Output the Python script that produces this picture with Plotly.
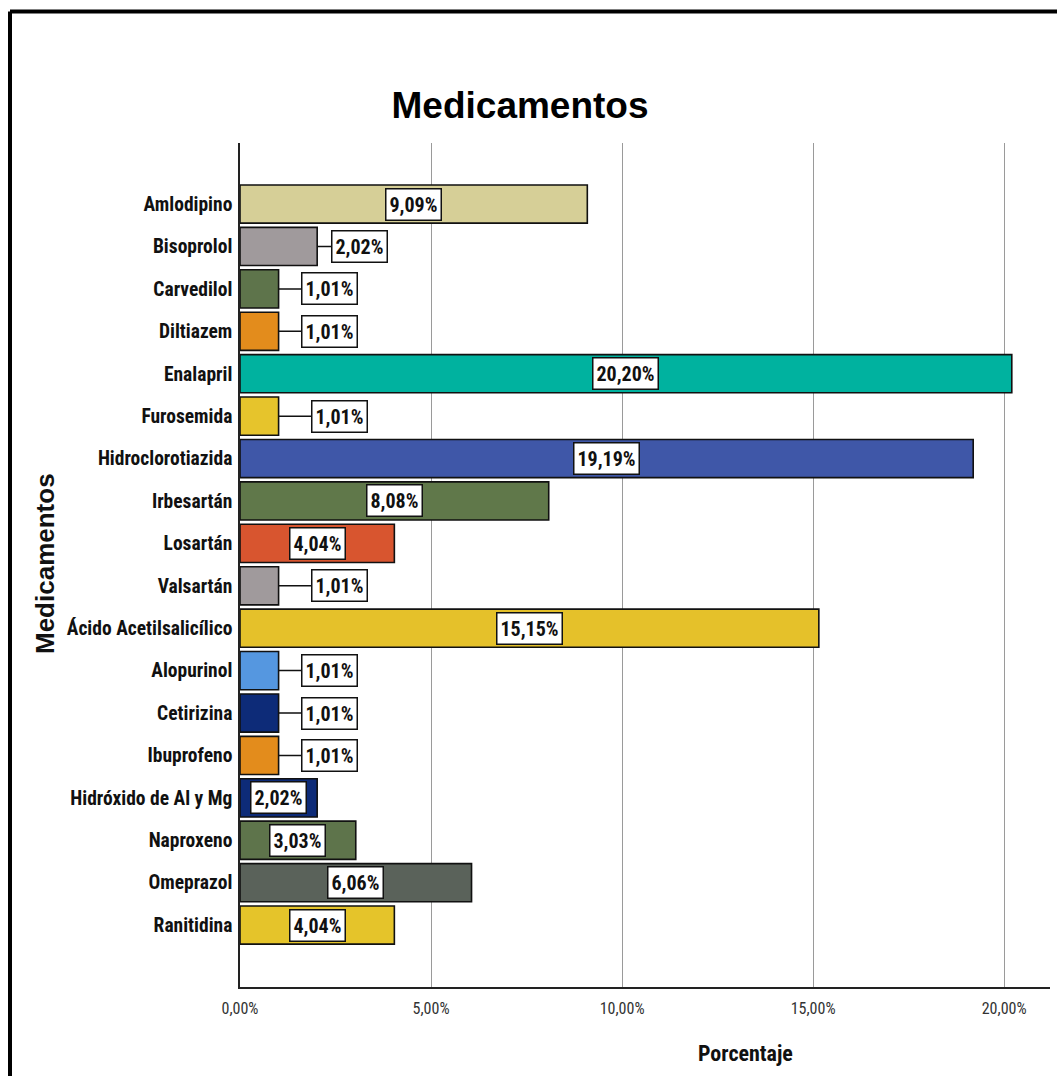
import plotly.graph_objects as go

# Porcentaje de pacientes por medicamento
medicamentos = [
    "Amlodipino", "Bisoprolol", "Carvedilol", "Diltiazem", "Enalapril",
    "Furosemida", "Hidroclorotiazida", "Irbesartán", "Losartán", "Valsartán",
    "Ácido Acetilsalicílico", "Alopurinol", "Cetirizina", "Ibuprofeno",
    "Hidróxido de Al y Mg", "Naproxeno", "Omeprazol", "Ranitidina",
]
porcentajes = [
    9.09, 2.02, 1.01, 1.01, 20.20,
    1.01, 19.19, 8.08, 4.04, 1.01,
    15.15, 1.01, 1.01, 1.01,
    2.02, 3.03, 6.06, 4.04,
]
x_ticks = [0, 5, 10, 15, 20]
x_tick_labels = ["0,00%", "5,00%", "10,00%", "15,00%", "20,00%"]

# Colores de relleno de cada barra
colores = [
    "#d6cf97", "#a09a9c", "#5e744b", "#e38c1c", "#00b29f",
    "#e6c42c", "#3f57a8", "#60784a", "#d8552f", "#a09a9c",
    "#e5c12a", "#5597e0", "#0d2b78", "#e38c1c",
    "#0d2b78", "#5e744b", "#5a625a", "#e5c42a",
]

# Etiquetas que se colocan fuera de la barra (desplazamiento en px)
etiqueta_fuera = {
    "Bisoprolol": 42, "Carvedilol": 51, "Diltiazem": 51, "Furosemida": 61,
    "Valsartán": 61, "Alopurinol": 51, "Cetirizina": 51, "Ibuprofeno": 51,
}

NARROW = "Roboto Condensed, Liberation Sans Narrow, sans-serif"
BOLD = "Liberation Sans, Arial, sans-serif"


def fmt(v):
    return f"{v:.2f}".replace(".", ",") + "%"


fig = go.Figure(
    go.Bar(
        x=porcentajes,
        y=medicamentos,
        orientation="h",
        width=0.9,
        marker=dict(color=colores, line=dict(color="#111111", width=1.6)),
        hoverinfo="x+y",
    )
)

annotations = []
for nombre, v in zip(medicamentos, porcentajes):
    common = dict(
        y=nombre,
        text=f"<b>{fmt(v)}</b>",
        font=dict(family=NARROW, size=20, color="#111111"),
        bgcolor="white",
        bordercolor="#111111",
        borderwidth=1.5,
        borderpad=3,
    )
    if nombre in etiqueta_fuera:
        annotations.append(dict(
            x=v, showarrow=True, arrowhead=0, arrowwidth=1.5,
            arrowcolor="#111111", ax=etiqueta_fuera[nombre], ay=0, **common,
        ))
    else:
        annotations.append(dict(x=v / 2, showarrow=False, **common))

# Títulos de los ejes
annotations.append(dict(
    text="<b>Porcentaje</b>", xref="paper", yref="paper",
    x=(745 - 240) / 810, y=-(1053 - 987) / 844, showarrow=False,
    xanchor="center", yanchor="middle",
    font=dict(family=NARROW, size=22, color="#111111"),
))
annotations.append(dict(
    text="<b>Medicamentos</b>", xref="paper", yref="paper",
    x=-(240 - 45) / 810, y=(987 - 564) / 844, textangle=-90, showarrow=False,
    xanchor="center", yanchor="middle",
    font=dict(family=BOLD, size=26, color="#111111"),
))

# Marco exterior (borde superior e izquierdo)
x_left = (10 - 240) / 810
y_top = (987 - 11.5) / 844
shapes = [
    dict(type="line", xref="paper", yref="paper", x0=x_left, x1=1.2,
         y0=y_top, y1=y_top, line=dict(color="black", width=4)),
    dict(type="line", xref="paper", yref="paper", x0=x_left, x1=x_left,
         y0=y_top, y1=-0.2, line=dict(color="black", width=4)),
]

fig.update_layout(
    width=1057,
    height=1076,
    margin=dict(l=240, r=7, t=143, b=89),
    paper_bgcolor="white",
    plot_bgcolor="white",
    showlegend=False,
    title=dict(
        text="<b>Medicamentos</b>",
        font=dict(family=BOLD, size=37, color="black"),
        xref="container", x=0.492, xanchor="center",
        yref="container", y=1 - 105 / 1076, yanchor="middle",
    ),
    annotations=annotations,
    shapes=shapes,
    bargap=0.1,
)

fig.update_xaxes(
    range=[0, 21.2],
    tickvals=x_ticks,
    ticktext=x_tick_labels,
    showgrid=True,
    gridcolor="#9a9a9a",
    gridwidth=1,
    zeroline=False,
    showline=True,
    linecolor="#222222",
    linewidth=1.5,
    ticks="",
    ticklabelstandoff=6,
    tickfont=dict(family=NARROW, size=16, color="#333333"),
    fixedrange=True,
)
fig.update_yaxes(
    categoryorder="array",
    categoryarray=medicamentos,
    range=[len(medicamentos) - 1 + 1.46, -1.44],
    showgrid=False,
    zeroline=False,
    showline=True,
    linecolor="#222222",
    linewidth=1.5,
    ticks="",
    ticklabelstandoff=2,
    tickvals=medicamentos,
    ticktext=[f"<b>{m}</b>" for m in medicamentos],
    tickfont=dict(family=NARROW, size=19.5, color="#111111"),
    fixedrange=True,
)

fig.write_html("out.html")
